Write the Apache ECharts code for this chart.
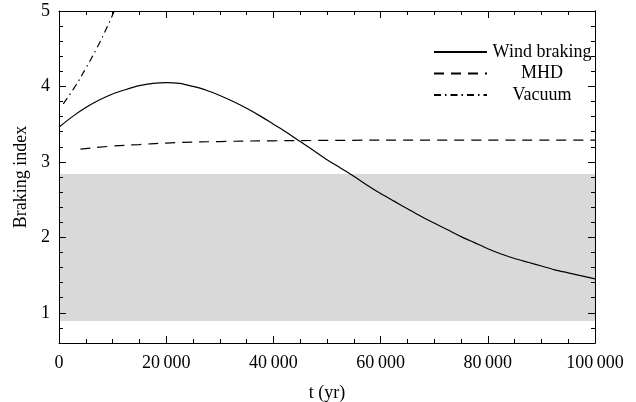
<!DOCTYPE html>
<html>
<head>
<meta charset="utf-8">
<script src="https://cdn.jsdelivr.net/npm/echarts@6/dist/echarts.min.js"></script>
<style>
  html, body { margin: 0; padding: 0; background: #fff; }
  #chart { width: 636px; height: 402px; }
</style>
</head>
<body>
<div id="chart"></div>
<script>
// data
const windT = [0, 2500, 5000, 7500, 10000, 12500, 15000, 17500, 20000, 22500, 25000,
               27500, 30000, 32500, 35000, 37500, 40000, 42500, 45000, 47500, 50000,
               52500, 55000, 57500, 60000, 62500, 65000, 67500, 70000, 72500, 75000,
               77500, 80000, 82500, 85000, 87500, 90000, 92500, 95000, 97500, 100000];
const windN = [3.46, 3.60, 3.72, 3.82, 3.90, 3.96, 4.01, 4.04, 4.05, 4.04, 4.00,
               3.95, 3.88, 3.80, 3.71, 3.61, 3.50, 3.39, 3.27, 3.15, 3.03,
               2.92, 2.81, 2.69, 2.58, 2.48, 2.38, 2.28, 2.19, 2.10, 2.01,
               1.93, 1.85, 1.78, 1.72, 1.67, 1.62, 1.57, 1.53, 1.49, 1.45];
const mhdT = [4000, 10000, 15000, 20000, 30000, 40000, 50000, 70000, 100000];
const mhdN = [3.17, 3.21, 3.23, 3.25, 3.27, 3.28, 3.285, 3.29, 3.29];
const vacT = [800, 3000, 5000, 7000, 9000, 10300];
const vacN = [3.77, 4.0, 4.24, 4.5, 4.79, 5.0];
const band = [0.89, 2.84];
const yMajor = [1, 2, 3, 4, 5];
const yMinor = [0.6, 0.8, 1.2, 1.4, 1.6, 1.8, 2.2, 2.4, 2.6, 2.8, 3.2, 3.4, 3.6, 3.8, 4.2, 4.4, 4.6, 4.8];

const FONT = '"Liberation Serif", "DejaVu Serif", serif';
const FS = 18;
const pairs = (xs, ys) => xs.map((x, i) => [x, ys[i]]);

const chart = echarts.init(document.getElementById('chart'));

const W = 636, H = 402;
const box = {left: 59, right: 41, top: 11, bottom: 59};
const grid = o => Object.assign({outerBoundsMode: 'none', containLabel: false}, o);
const line = {show: true, onZero: false, lineStyle: {color: '#000', width: 1}};
const tickStyle = {color: '#000', width: 1};

// right-edge y ticks; the left-edge ticks use the same kind of axis on thin grids ending len px inside the frame
const yRight = (g, vals, len, withLine) => ({
    type: 'value', min: 0.6, max: 5, position: 'right', gridIndex: g, z: 5,
    axisLine: withLine ? line : {show: false, onZero: false},
    axisTick: {show: true, inside: true, length: len, customValues: vals, lineStyle: tickStyle},
    axisLabel: {show: false}, splitLine: {show: false}
});
// top-edge x ticks: bottom axes on thin grids ending len px below the frame top
const xBottomTicks = (g, step, len) => ({
    type: 'value', min: 0, max: 100000, interval: step, position: 'bottom', gridIndex: g, z: 5,
    axisLine: {show: false, onZero: false},
    axisTick: {show: true, inside: true, length: len, lineStyle: tickStyle},
    axisLabel: {show: false}, splitLine: {show: false}
});
const hiddenX = g => ({type: 'value', min: 0, max: 100000, gridIndex: g, show: false});
const hiddenY = g => ({type: 'value', min: 0.6, max: 5, gridIndex: g, show: false});

const option = {
    backgroundColor: '#ffffff',
    animation: false,
    grid: [
        grid(box),                                                             // 0 main
        grid(box),                                                             // 1 right minor ticks
        grid({left: 50, right: W - box.left - 7, top: box.top, bottom: box.bottom}),   // 2 left major ticks
        grid({left: 50, right: W - box.left - 4, top: box.top, bottom: box.bottom}),   // 3 left minor ticks
        grid({left: box.left, right: box.right, top: 2, bottom: H - box.top - 7}),     // 4 top major ticks
        grid({left: box.left, right: box.right, top: 2, bottom: H - box.top - 4})      // 5 top minor ticks
    ],
    legend: {
        orient: 'vertical',
        left: 433, top: 43, padding: 0,
        itemWidth: 53, itemHeight: 10, itemGap: 3.5,
        itemStyle: {opacity: 0},
        data: ['Wind braking', 'MHD', 'Vacuum'],
        formatter: '{a|{name}}',
        textStyle: {
            color: '#000', fontFamily: FONT, fontSize: FS,
            rich: {a: {width: 100, align: 'center', fontFamily: FONT, fontSize: FS, lineHeight: 19, color: '#000'}}
        }
    },
    xAxis: [
        {
            type: 'value', min: 0, max: 100000, interval: 20000, position: 'bottom', gridIndex: 0, z: 5,
            axisLine: line,
            axisTick: {show: true, inside: true, length: 7, lineStyle: tickStyle},
            minorTick: {show: true, splitNumber: 4, length: 4, lineStyle: tickStyle},
            splitLine: {show: false},
            name: 't (yr)', nameLocation: 'middle', nameGap: 41,
            nameTextStyle: {color: '#000', fontFamily: FONT, fontSize: FS},
            axisLabel: {
                color: '#000', fontFamily: FONT, fontSize: FS, margin: 11,
                formatter: v => v === 0 ? '0' : String(v).replace(/(\d)(?=(\d{3})+$)/g, '$1\u2009')
            }
        },
        {
            type: 'value', min: 0, max: 100000, position: 'top', gridIndex: 1, z: 5,
            axisLine: line, axisTick: {show: false}, axisLabel: {show: false}, splitLine: {show: false}
        },
        hiddenX(2),
        hiddenX(3),
        xBottomTicks(4, 20000, 7),
        xBottomTicks(5, 5000, 4)
    ],
    yAxis: [
        {
            type: 'value', min: 0.6, max: 5, position: 'left', gridIndex: 0, z: 5,
            axisLine: line,
            axisTick: {show: false},
            splitLine: {show: false},
            name: 'Braking index', nameLocation: 'middle', nameGap: 25, nameRotate: 90,
            nameTextStyle: {color: '#000', fontFamily: FONT, fontSize: FS},
            axisLabel: {color: '#000', fontFamily: FONT, fontSize: FS, margin: 9, customValues: yMajor}
        },
        yRight(0, yMajor, 7, true),
        yRight(1, yMinor, 4, true),
        yRight(2, yMajor, 7, false),
        yRight(3, yMinor, 4, false),
        hiddenY(4),
        hiddenY(5)
    ],
    series: [
        {
            name: 'band', type: 'line', data: [], silent: true, z: 1,
            markArea: {
                silent: true,
                itemStyle: {color: '#d9d9d9'},
                data: [[{xAxis: 0, yAxis: band[0]}, {xAxis: 100000, yAxis: band[1]}]]
            }
        },
        {
            name: 'Wind braking', type: 'line', smooth: 0.3, symbol: 'none',
            data: pairs(windT, windN),
            lineStyle: {color: '#000', width: 1.2, type: 'solid'},
            itemStyle: {color: '#000'}
        },
        {
            name: 'MHD', type: 'line', smooth: true, symbol: 'none',
            data: pairs(mhdT, mhdN),
            lineStyle: {color: '#000', width: 1.2, type: [10, 7]},
            itemStyle: {color: '#000'}
        },
        {
            name: 'Vacuum', type: 'line', smooth: true, symbol: 'none',
            data: pairs(vacT, vacN),
            lineStyle: {color: '#000', width: 1.2, type: [7, 4, 1.5, 4]},
            itemStyle: {color: '#000'}
        }
    ]
};

chart.setOption(option);
</script>
</body>
</html>
